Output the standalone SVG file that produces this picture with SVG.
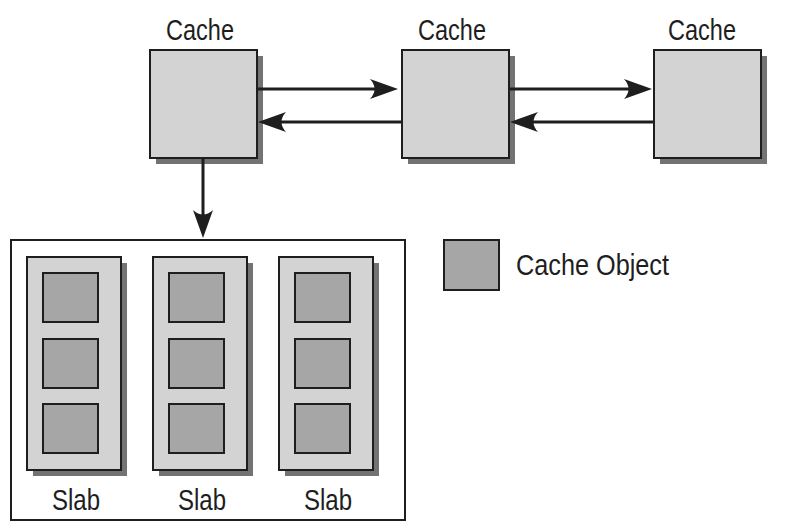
<svg xmlns="http://www.w3.org/2000/svg" width="798" height="531" viewBox="0 0 798 531">
<style>
.shadow{fill:#737373;stroke:none}
.box{fill:#d3d3d3;stroke:#1e1e1e;stroke-width:2}
.obj{fill:#a6a6a6;stroke:#1e1e1e;stroke-width:2}
.frame{fill:#fff;stroke:#1e1e1e;stroke-width:2}
.lbl{font-family:"Liberation Sans",Arial,sans-serif;font-size:30px;fill:#1e1e1e}
.conn{stroke:#1e1e1e;stroke-width:3;fill:none}
</style>
<defs>
<marker id="ah" viewBox="0 0 28 20" refX="8" refY="10" markerWidth="28" markerHeight="20" markerUnits="userSpaceOnUse" orient="auto">
<path d="M28,10 L0,0 Q9,10 0,20 Z" fill="#1e1e1e"/>
</marker>
<g id="objTpl">
<rect class="obj" x="0" y="0" width="55" height="49"/>
</g>
<g id="slabTpl">
<rect class="shadow" x="6" y="6" width="94" height="213"/>
<rect class="box" x="0" y="0" width="94" height="213"/>
<use href="#objTpl" x="16" y="16"/>
<use href="#objTpl" x="16" y="82"/>
<use href="#objTpl" x="16" y="147"/>
</g>
</defs>
<rect width="798" height="531" fill="#fff"/>

<g id="cache1">
<rect class="shadow" x="156" y="56" width="107" height="108"/>
<rect class="box" x="150" y="50" width="107" height="108"/>
<text class="lbl" x="200" y="40" text-anchor="middle" textLength="68" lengthAdjust="spacingAndGlyphs">Cache</text>
</g>
<g id="cache2">
<rect class="shadow" x="408" y="56" width="107" height="108"/>
<rect class="box" x="402" y="50" width="107" height="108"/>
<text class="lbl" x="452" y="40" text-anchor="middle" textLength="68" lengthAdjust="spacingAndGlyphs">Cache</text>
</g>
<g id="cache3">
<rect class="shadow" x="660" y="56" width="107" height="108"/>
<rect class="box" x="654" y="50" width="107" height="108"/>
<text class="lbl" x="702" y="40" text-anchor="middle" textLength="68" lengthAdjust="spacingAndGlyphs">Cache</text>
</g>

<g id="slabContainer">
<rect class="frame" x="11" y="240" width="394" height="280"/>
</g>
<g id="slab1">
<use href="#slabTpl" x="27" y="257"/>
<text class="lbl" x="76" y="510" text-anchor="middle" textLength="48" lengthAdjust="spacingAndGlyphs">Slab</text>
</g>
<g id="slab2">
<use href="#slabTpl" x="153" y="257"/>
<text class="lbl" x="202" y="510" text-anchor="middle" textLength="48" lengthAdjust="spacingAndGlyphs">Slab</text>
</g>
<g id="slab3">
<use href="#slabTpl" x="279" y="257"/>
<text class="lbl" x="328" y="510" text-anchor="middle" textLength="48" lengthAdjust="spacingAndGlyphs">Slab</text>
</g>

<g id="legend">
<rect class="obj" x="444" y="240" width="55" height="50"/>
<text class="lbl" x="516" y="275" textLength="153" lengthAdjust="spacingAndGlyphs">Cache Object</text>
</g>

<g id="connectors">
<line class="conn" x1="257" y1="89" x2="378" y2="89" marker-end="url(#ah)"/>
<line class="conn" x1="402" y1="122" x2="278" y2="122" marker-end="url(#ah)"/>
<line class="conn" x1="509" y1="89" x2="632" y2="89" marker-end="url(#ah)"/>
<line class="conn" x1="654" y1="122" x2="530" y2="122" marker-end="url(#ah)"/>
<line class="conn" x1="203" y1="158" x2="203" y2="218" marker-end="url(#ah)"/>
</g>
</svg>
